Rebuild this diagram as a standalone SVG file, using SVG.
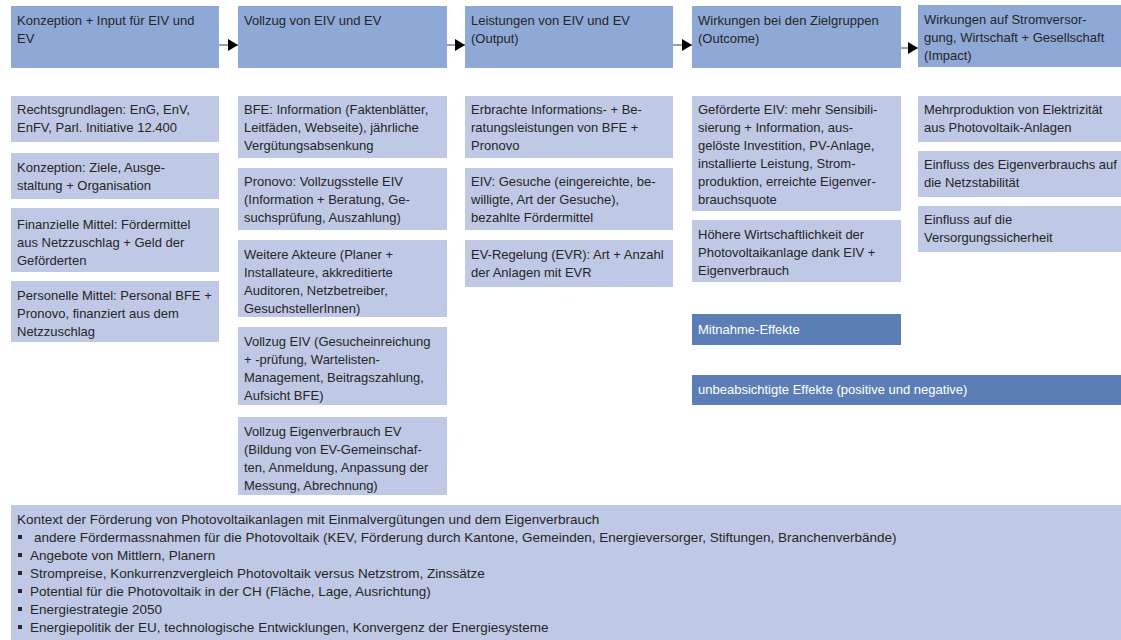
<svg xmlns="http://www.w3.org/2000/svg" width="1121" height="640" viewBox="0 0 1121 640">
<style>
text{font-family:"Liberation Sans",Arial,sans-serif;font-size:13px;fill:#262626}
.k text{font-size:13.5px}
.h{fill:#8FA9D6}
.l{fill:#BFC8E4}
.d{fill:#5B7FB4}
.w{fill:#ffffff}
.c{stroke:#404040;stroke-width:1;fill:none}
.b{fill:#262626}
</style>
<defs>
<marker id="ah" markerWidth="10" markerHeight="12" refX="10" refY="6" orient="auto" markerUnits="userSpaceOnUse">
<path d="M0,0 L10,6 L0,12 Z" fill="#000"/>
</marker>
</defs>
<rect width="1121" height="640" fill="#ffffff"/>

<g id="h1"><rect class="h" x="11" y="6" width="208" height="62"/><text x="17" y="25">Konzeption + Input für EIV und</text><text x="17" y="43">EV</text></g>
<g id="h2"><rect class="h" x="238" y="6" width="209" height="62"/><text x="244" y="25">Vollzug von EIV und EV</text></g>
<g id="h3"><rect class="h" x="465" y="6" width="208" height="62"/><text x="471" y="25">Leistungen von EIV und EV</text><text x="471" y="43">(Output)</text></g>
<g id="h4"><rect class="h" x="692" y="6" width="209" height="62"/><text x="698" y="25">Wirkungen bei den Zielgruppen</text><text x="698" y="43">(Outcome)</text></g>
<g id="h5"><rect class="h" x="918" y="5" width="203" height="62"/><text x="924" y="24">Wirkungen auf Stromversor-</text><text x="924" y="42">gung, Wirtschaft + Gesellschaft</text><text x="924" y="60">(Impact)</text></g>

<g id="connectors">
<line class="c" x1="219" y1="45" x2="238" y2="45" marker-end="url(#ah)"/>
<line class="c" x1="447" y1="45" x2="465" y2="45" marker-end="url(#ah)"/>
<line class="c" x1="673" y1="45" x2="692" y2="45" marker-end="url(#ah)"/>
<line class="c" x1="901" y1="48" x2="918" y2="48" marker-end="url(#ah)"/>
</g>

<g id="c1a"><rect class="l" x="11" y="96" width="208" height="46"/><text x="17" y="114">Rechtsgrundlagen: EnG, EnV,</text><text x="17" y="132">EnFV, Parl. Initiative 12.400</text></g>
<g id="c1b"><rect class="l" x="11" y="153" width="208" height="46"/><text x="17" y="172">Konzeption: Ziele, Ausge-</text><text x="17" y="190">staltung + Organisation</text></g>
<g id="c1c"><rect class="l" x="11" y="208" width="208" height="64"/><text x="17" y="229">Finanzielle Mittel: Fördermittel</text><text x="17" y="247">aus Netzzuschlag + Geld der</text><text x="17" y="265">Geförderten</text></g>
<g id="c1d"><rect class="l" x="11" y="281" width="208" height="61"/><text x="17" y="300">Personelle Mittel: Personal BFE +</text><text x="17" y="318">Pronovo, finanziert aus dem</text><text x="17" y="336">Netzzuschlag</text></g>

<g id="c2a"><rect class="l" x="238" y="96" width="209" height="62"/><text x="244" y="114">BFE: Information (Faktenblätter,</text><text x="244" y="132">Leitfäden, Webseite), jährliche</text><text x="244" y="150">Vergütungsabsenkung</text></g>
<g id="c2b"><rect class="l" x="238" y="168" width="209" height="62"/><text x="244" y="186">Pronovo: Vollzugsstelle EIV</text><text x="244" y="204">(Information + Beratung, Ge-</text><text x="244" y="222">suchsprüfung, Auszahlung)</text></g>
<g id="c2c"><rect class="l" x="238" y="240" width="209" height="77"/><text x="244" y="259">Weitere Akteure (Planer +</text><text x="244" y="277">Installateure, akkreditierte</text><text x="244" y="295">Auditoren, Netzbetreiber,</text><text x="244" y="313">GesuchstellerInnen)</text></g>
<g id="c2d"><rect class="l" x="238" y="327" width="209" height="78"/><text x="244" y="346">Vollzug EIV (Gesucheinreichung</text><text x="244" y="364">+ -prüfung, Wartelisten-</text><text x="244" y="382">Management, Beitragszahlung,</text><text x="244" y="400">Aufsicht BFE)</text></g>
<g id="c2e"><rect class="l" x="238" y="417" width="209" height="78"/><text x="244" y="436">Vollzug Eigenverbrauch EV</text><text x="244" y="454">(Bildung von EV-Gemeinschaf-</text><text x="244" y="472">ten, Anmeldung, Anpassung der</text><text x="244" y="490">Messung, Abrechnung)</text></g>

<g id="c3a"><rect class="l" x="465" y="96" width="208" height="62"/><text x="471" y="114">Erbrachte Informations- + Be-</text><text x="471" y="132">ratungsleistungen von BFE +</text><text x="471" y="150">Pronovo</text></g>
<g id="c3b"><rect class="l" x="465" y="168" width="208" height="62"/><text x="471" y="186">EIV: Gesuche (eingereichte, be-</text><text x="471" y="204">willigte, Art der Gesuche),</text><text x="471" y="222">bezahlte Fördermittel</text></g>
<g id="c3c"><rect class="l" x="465" y="240" width="208" height="47"/><text x="471" y="259">EV-Regelung (EVR): Art + Anzahl</text><text x="471" y="277">der Anlagen mit EVR</text></g>

<g id="c4a"><rect class="l" x="692" y="96" width="209" height="115"/><text x="698" y="114">Geförderte EIV: mehr Sensibili-</text><text x="698" y="132">sierung + Information, aus-</text><text x="698" y="150">gelöste Investition, PV-Anlage,</text><text x="698" y="168">installierte Leistung, Strom-</text><text x="698" y="186">produktion, erreichte Eigenver-</text><text x="698" y="204">brauchsquote</text></g>
<g id="c4b"><rect class="l" x="692" y="220" width="209" height="62"/><text x="698" y="239">Höhere Wirtschaftlichkeit der</text><text x="698" y="257">Photovoltaikanlage dank EIV +</text><text x="698" y="275">Eigenverbrauch</text></g>
<g id="c4c"><rect class="d" x="692" y="314" width="209" height="31"/><text class="w" x="698" y="334">Mitnahme-Effekte</text></g>
<g id="c4d"><rect class="d" x="692" y="375" width="429" height="30"/><text class="w" x="698" y="394">unbeabsichtigte Effekte (positive und negative)</text></g>

<g id="c5a"><rect class="l" x="918" y="96" width="203" height="46"/><text x="924" y="114">Mehrproduktion von Elektrizität</text><text x="924" y="132">aus Photovoltaik-Anlagen</text></g>
<g id="c5b"><rect class="l" x="918" y="151" width="203" height="46"/><text x="924" y="169">Einfluss des Eigenverbrauchs auf</text><text x="924" y="187">die Netzstabilität</text></g>
<g id="c5c"><rect class="l" x="918" y="206" width="203" height="46"/><text x="924" y="224">Einfluss auf die</text><text x="924" y="242">Versorgungssicherheit</text></g>

<g id="context" class="k"><rect class="l" x="11" y="505" width="1110" height="135"/>
<text x="17" y="524">Kontext der Förderung von Photovoltaikanlagen mit Einmalvergütungen und dem Eigenverbrauch</text>
<rect class="b" x="18" y="535" width="4" height="4"/>
<rect class="b" x="18" y="553" width="4" height="4"/>
<rect class="b" x="18" y="571" width="4" height="4"/>
<rect class="b" x="18" y="589" width="4" height="4"/>
<rect class="b" x="18" y="607" width="4" height="4"/>
<rect class="b" x="18" y="625" width="4" height="4"/>
<text x="34" y="542">andere Fördermassnahmen für die Photovoltaik (KEV, Förderung durch Kantone, Gemeinden, Energieversorger, Stiftungen, Branchenverbände)</text>
<text x="30" y="560">Angebote von Mittlern, Planern</text>
<text x="30" y="578">Strompreise, Konkurrenzvergleich Photovoltaik versus Netzstrom, Zinssätze</text>
<text x="30" y="596">Potential für die Photovoltaik in der CH (Fläche, Lage, Ausrichtung)</text>
<text x="30" y="614">Energiestrategie 2050</text>
<text x="30" y="632">Energiepolitik der EU, technologische Entwicklungen, Konvergenz der Energiesysteme</text>
</g>
</svg>
